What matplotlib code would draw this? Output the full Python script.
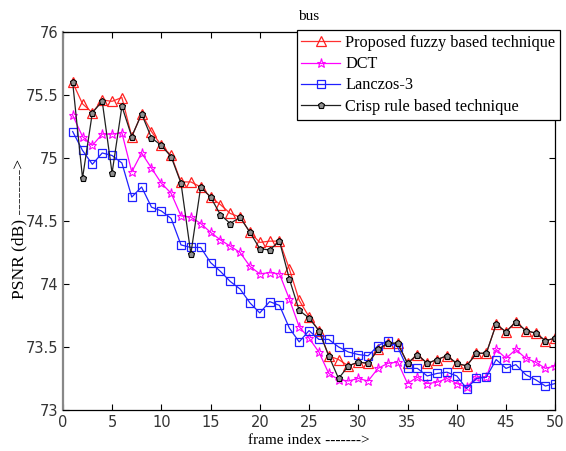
import matplotlib
matplotlib.use('Agg')
import matplotlib.pyplot as plt
import numpy as np

"""
Data read off the reference (PSNR in dB, frames 1..50)
"""
frames = np.arange(1, 51)
fuzzy = [75.60, 75.43, 75.36, 75.46, 75.45, 75.48, 75.17, 75.35, 75.21, 75.10,
         75.02, 74.81, 74.81, 74.77, 74.69, 74.63, 74.56, 74.53, 74.41, 74.33,
         74.34, 74.34, 74.12, 73.87, 73.74, 73.63, 73.43, 73.40, 73.35, 73.38,
         73.37, 73.48, 73.53, 73.53, 73.37, 73.44, 73.37, 73.40, 73.43, 73.37,
         73.35, 73.45, 73.45, 73.68, 73.62, 73.70, 73.63, 73.61, 73.55, 73.57]
dct = [75.34, 75.17, 75.10, 75.19, 75.19, 75.20, 74.89, 75.04, 74.92, 74.80,
       74.72, 74.54, 74.53, 74.48, 74.41, 74.35, 74.30, 74.25, 74.14, 74.08,
       74.09, 74.08, 73.88, 73.66, 73.57, 73.46, 73.29, 73.24, 73.23, 73.25,
       73.23, 73.33, 73.37, 73.38, 73.21, 73.26, 73.21, 73.22, 73.25, 73.21,
       73.18, 73.26, 73.26, 73.48, 73.41, 73.48, 73.41, 73.38, 73.33, 73.35]
lanczos = [75.21, 75.06, 74.95, 75.04, 75.02, 74.96, 74.69, 74.77, 74.61, 74.58,
           74.52, 74.31, 74.29, 74.29, 74.17, 74.10, 74.02, 73.96, 73.85, 73.77,
           73.86, 73.83, 73.65, 73.54, 73.63, 73.56, 73.56, 73.50, 73.46, 73.44,
           73.43, 73.51, 73.55, 73.50, 73.33, 73.33, 73.27, 73.29, 73.30, 73.27,
           73.17, 73.25, 73.26, 73.40, 73.33, 73.36, 73.28, 73.24, 73.19, 73.21]
crisp = [75.60, 74.84, 75.36, 75.45, 74.88, 75.41, 75.17, 75.35, 75.16, 75.10,
         75.01, 74.80, 74.24, 74.77, 74.69, 74.55, 74.48, 74.53, 74.41, 74.28,
         74.27, 74.34, 74.04, 73.79, 73.73, 73.63, 73.43, 73.25, 73.35, 73.38,
         73.37, 73.48, 73.53, 73.53, 73.37, 73.44, 73.37, 73.40, 73.43, 73.37,
         73.35, 73.45, 73.45, 73.68, 73.62, 73.70, 73.63, 73.61, 73.55, 73.57]

xticks = [0, 5, 10, 15, 20, 25, 30, 35, 40, 45, 50]
yticks = [73, 73.5, 74, 74.5, 75, 75.5, 76]
serif = 'Liberation Serif'

fig = plt.figure(figsize=(5.66, 4.51), dpi=100)
ax = fig.add_axes([0.111, 0.091, 0.870, 0.838])

ax.plot(frames, fuzzy, '-', color='#ff3030', lw=0.9, marker='^', ms=7,
        mfc='none', mec='#ff2020', mew=0.9, label='Proposed fuzzy based technique')
ax.plot(frames, dct, '-', color='#ff00ff', lw=0.9, marker='*', ms=6.5,
        mfc='none', mec='#ff00ff', mew=0.8, label='DCT')
ax.plot(frames, lanczos, '-', color='#2020ff', lw=0.9, marker='s', ms=6,
        mfc='none', mec='#2020ff', mew=0.9, label='Lanczos-3')
ax.plot(frames, crisp, '-', color='#202020', lw=0.9, marker='p', ms=5,
        mfc='#909090', mec='black', mew=0.8, label='Crisp rule based technique')

ax.set_xlim(0, 50)
ax.set_ylim(73, 76)
ax.set_xticks(xticks)
ax.set_yticks(yticks)
ax.set_yticklabels(['73', '73.5', '74', '74.5', '75', '75.5', '76'])
ax.tick_params(direction='in', top=True, right=True, length=4, width=0.8,
               labelsize=10.5, colors='black')
for lab in ax.get_xticklabels() + ax.get_yticklabels():
    lab.set_color('#333333')
for s in ax.spines.values():
    s.set_linewidth(0.9)
ax.spines['left'].set_color('#888888')
ax.spines['left'].set_linewidth(1.6)

ax.set_title('bus', fontfamily=serif, fontsize=11, pad=9)
ax.set_xlabel('frame index ------->', fontfamily=serif, fontsize=11, labelpad=3)
ax.set_ylabel('PSNR (dB) -------->', fontfamily=serif, fontsize=12.5, labelpad=1)
ax.yaxis.set_label_coords(-0.072, 0.48)

leg = ax.legend(loc='upper right', bbox_to_anchor=(0.990, 0.933),
                bbox_transform=fig.transFigure, fancybox=False, framealpha=1,
                edgecolor='black', prop={'family': serif, 'size': 11.7},
                handlelength=2.4, handletextpad=0.3, labelspacing=0.32,
                borderpad=0.3, borderaxespad=0)
leg.get_frame().set_linewidth(0.9)

fig.savefig('out.png', dpi=100, facecolor='white')
